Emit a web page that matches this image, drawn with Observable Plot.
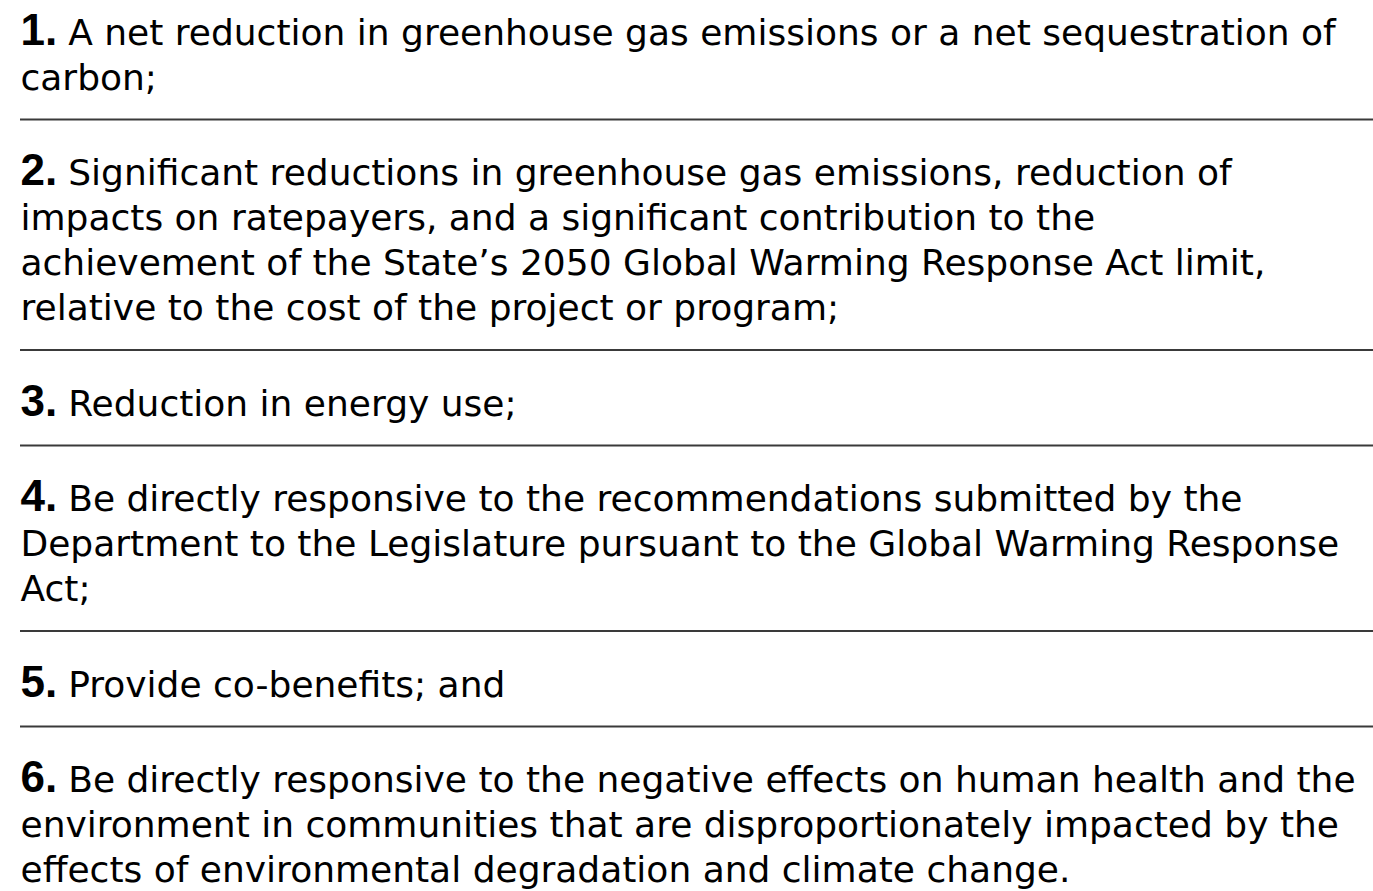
<!DOCTYPE html>
<html>
<head>
<meta charset="utf-8">
<script src="https://cdn.jsdelivr.net/npm/d3@7"></script>
<script src="https://cdn.jsdelivr.net/npm/@observablehq/plot@0.6"></script>
<style>
  html, body { margin: 0; padding: 0; background: #fff; }
  #chart svg { display: block; }
</style>
</head>
<body>
<div id="chart"></div>
<script>
// ---- data ----
const numbers = ["1.", "2.", "3.", "4.", "5.", "6."];
const item1 = ["A net reduction in greenhouse gas emissions or a net sequestration of", "carbon;"];
const item2 = ["Significant reductions in greenhouse gas emissions, reduction of",
  "impacts on ratepayers, and a significant contribution to the",
  "achievement of the State’s 2050 Global Warming Response Act limit,",
  "relative to the cost of the project or program;"];
const item3 = ["Reduction in energy use;"];
const item4 = ["Be directly responsive to the recommendations submitted by the",
  "Department to the Legislature pursuant to the Global Warming Response",
  "Act;"];
const item5 = ["Provide co-benefits; and"];
const item6 = ["Be directly responsive to the negative effects on human health and the",
  "environment in communities that are disproportionately impacted by the",
  "effects of environmental degradation and climate change."];
const items = [item1, item2, item3, item4, item5, item6];

// ---- layout ----
const W = 1373, LEFT = 20;
const LINE = 45;               // px per line
const GAP = 50.5 / LINE;       // extra space between items, in line units
const RULE_OFFSET = 30 / LINE; // divider below last line of an item
const bodyFont = "DejaVu Sans";
const numFont = "Liberation Sans";
const bodySize = 36, numSize = 44;

// measure number widths so the first line follows its bold number
const ctx = document.createElement("canvas").getContext("2d");
ctx.font = `bold ${numSize}px "${numFont}"`;
const numOffset = numbers.map(s => (ctx.measureText(s).width + 11) / (W - LEFT));

const rows = [];
const dividers = [];
let n = 0;
items.forEach((lines, k) => {
  lines.forEach((t, j) => {
    rows.push({item: k, line: j, pos: n + k * GAP, text: t, num: numbers[k],
               xpos: j === 0 ? numOffset[k] : 0});
    n++;
  });
  if (k < items.length - 1) dividers.push({pos: (n - 1) + k * GAP + RULE_OFFSET});
});
const firstRows = rows.filter(d => d.line === 0);

const plot = Plot.plot({
  width: W,
  height: 891,
  margin: 0,
  style: {background: "#fff", fontFamily: bodyFont},
  x: {domain: [0, 1], range: [LEFT, W], axis: null},
  y: {domain: [0, 1], range: [44, 44 + LINE], axis: null},
  marks: [
    Plot.ruleY(dividers, {y: "pos", x1: () => 0, x2: () => 1, stroke: "#3a3a3a", strokeWidth: 2}),
    Plot.text(firstRows, {x: () => 0, y: "pos", text: "num", textAnchor: "start", lineAnchor: "bottom",
      fontSize: numSize, fontWeight: "bold", fill: "#000", fontFamily: numFont}),
    Plot.text(rows, {x: "xpos", y: "pos", text: "text", textAnchor: "start", lineAnchor: "bottom",
      fontSize: bodySize, fill: "#000", fontFamily: bodyFont})
  ]
});
document.getElementById("chart").appendChild(plot);
</script>
</body>
</html>
